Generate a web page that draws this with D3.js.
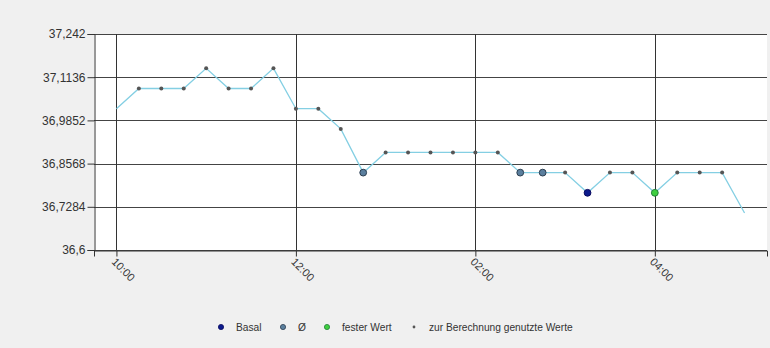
<!DOCTYPE html>
<html>
<head>
<meta charset="utf-8">
<script src="https://cdn.jsdelivr.net/npm/d3@7"></script>
<style>
  body { margin: 0; background: #f0f0f0; }
  svg { display: block; font-family: "Liberation Sans", "DejaVu Sans", sans-serif; }
</style>
</head>
<body>
<div id="chart"></div>
<script>
// measurement times (every 15 minutes) and temperature values
const times = ["10:00", "10:15", "10:30", "10:45", "11:00", "11:15", "11:30", "11:45",
  "12:00", "12:15", "12:30", "12:45", "13:00", "13:15", "13:30", "13:45", "14:00",
  "14:15", "14:30", "14:45", "15:00", "15:15", "15:30", "15:45", "16:00", "16:15",
  "16:30", "16:45", "17:00"];
const values = [37.02, 37.08, 37.08, 37.08, 37.14, 37.08, 37.08, 37.14,
  37.02, 37.02, 36.96, 36.83, 36.89, 36.89, 36.89, 36.89, 36.89,
  36.89, 36.83, 36.83, 36.83, 36.77, 36.83, 36.83, 36.77, 36.83,
  36.83, 36.83, 36.71];
// marker type per point: "" none, "u" used value, "avg" Ø, "basal", "fix" fester Wert
const markers = ["", "u", "u", "u", "u", "u", "u", "u",
  "u", "u", "u", "avg", "u", "u", "u", "u", "u",
  "u", "avg", "avg", "u", "basal", "u", "u", "fix", "u",
  "u", "u", ""];
const yTicks = [36.6, 36.7284, 36.8568, 36.9852, 37.1136, 37.242];
const xTickTimes = ["10:00", "12:00", "14:00", "16:00"];
const legendItems = [
  { key: "basal", label: "Basal" },
  { key: "avg", label: "Ø" },
  { key: "fix", label: "fester Wert" },
  { key: "u", label: "zur Berechnung genutzte Werte" }
];

const width = 770, height = 348;
const margin = { top: 34, right: 3, bottom: 98, left: 94 };

const parse = d3.timeParse("%H:%M");
const points = times.map((t, i) => ({ t: parse(t), v: values[i], m: markers[i] }));

const svg = d3.select("#chart").append("svg")
  .attr("width", width)
  .attr("height", height);

const x = d3.scaleTime()
  .domain([parse("09:45"), parse("17:15")])
  .range([margin.left, width - margin.right]);

const y = d3.scaleLinear()
  .domain([36.6, 37.242])
  .range([height - margin.bottom, margin.top]);

// plot background
svg.append("rect")
  .attr("x", margin.left)
  .attr("y", margin.top)
  .attr("width", width - margin.left - margin.right)
  .attr("height", height - margin.top - margin.bottom)
  .attr("fill", "#fff");

// horizontal grid
svg.append("g")
  .selectAll("line")
  .data(yTicks)
  .enter()
  .append("line")
  .attr("x1", margin.left)
  .attr("x2", width - margin.right)
  .attr("y1", d => Math.round(y(d)) + 0.5)
  .attr("y2", d => Math.round(y(d)) + 0.5)
  .attr("stroke", "#444")
  .attr("stroke-width", 1);

// vertical grid
svg.append("g")
  .selectAll("line")
  .data(xTickTimes.map(parse))
  .enter()
  .append("line")
  .attr("x1", d => Math.round(x(d)) + 0.5)
  .attr("x2", d => Math.round(x(d)) + 0.5)
  .attr("y1", margin.top)
  .attr("y2", height - margin.bottom)
  .attr("stroke", "#333")
  .attr("stroke-width", 1);

// y axis
const yAxis = svg.append("g")
  .attr("transform", `translate(${margin.left + 0.5},0)`)
  .call(d3.axisLeft(y)
    .tickValues(yTicks)
    .tickSize(7)
    .tickFormat(d => String(d).replace(".", ",")));
yAxis.select(".domain").attr("stroke", "#333");
yAxis.selectAll(".tick line").attr("stroke", "#333");
yAxis.selectAll(".tick text")
  .attr("font-size", 12)
  .attr("fill", "#333")
  .attr("x", -9);

// x axis
const xAxis = svg.append("g")
  .attr("transform", `translate(0,${height - margin.bottom + 0.5})`)
  .call(d3.axisBottom(x)
    .tickValues(xTickTimes.map(parse))
    .tickSize(6)
    .tickFormat(d3.timeFormat("%I:%M")));
xAxis.select(".domain").attr("stroke", "#333");
xAxis.selectAll(".tick line").attr("stroke", "#333");
xAxis.selectAll(".tick text")
  .attr("font-size", 11)
  .attr("fill", "#333")
  .attr("text-anchor", "start")
  .attr("dy", null)
  .attr("y", 0)
  .attr("transform", "translate(-6,12) rotate(45)");

// line
const line = d3.line()
  .x(d => x(d.t))
  .y(d => y(d.v));

svg.append("path")
  .datum(points)
  .attr("d", line)
  .attr("fill", "none")
  .attr("stroke", "#84cfe3")
  .attr("stroke-width", 1.3);

// marker styles
const markerStyle = {
  u: { r: 2, fill: "#555", stroke: "none" },
  avg: { r: 3.4, fill: "#5b7f9e", stroke: "#2c3e50" },
  basal: { r: 3.4, fill: "#0c1a8c", stroke: "#0a0a60" },
  fix: { r: 3.4, fill: "#3fcf3f", stroke: "#23803a" }
};

svg.append("g")
  .selectAll("circle")
  .data(points.filter(d => d.m))
  .enter()
  .append("circle")
  .attr("cx", d => x(d.t))
  .attr("cy", d => y(d.v))
  .attr("r", d => markerStyle[d.m].r)
  .attr("fill", d => markerStyle[d.m].fill)
  .attr("stroke", d => markerStyle[d.m].stroke)
  .attr("stroke-width", 1);

// legend
const legendX = [221, 283, 327, 414];
const legend = svg.append("g")
  .attr("transform", "translate(0,327)");
const items = legend.selectAll("g")
  .data(legendItems)
  .enter()
  .append("g")
  .attr("transform", (d, i) => `translate(${legendX[i]},0)`);
items.append("circle")
  .attr("r", d => d.key === "u" ? 1.4 : 2.6)
  .attr("fill", d => markerStyle[d.key].fill)
  .attr("stroke", d => d.key === "u" ? "none" : markerStyle[d.key].stroke)
  .attr("stroke-width", 0.8);
items.append("text")
  .attr("x", 15)
  .attr("dy", "0.35em")
  .attr("font-size", 10.2)
  .attr("fill", "#333")
  .text(d => d.label);
</script>
</body>
</html>
